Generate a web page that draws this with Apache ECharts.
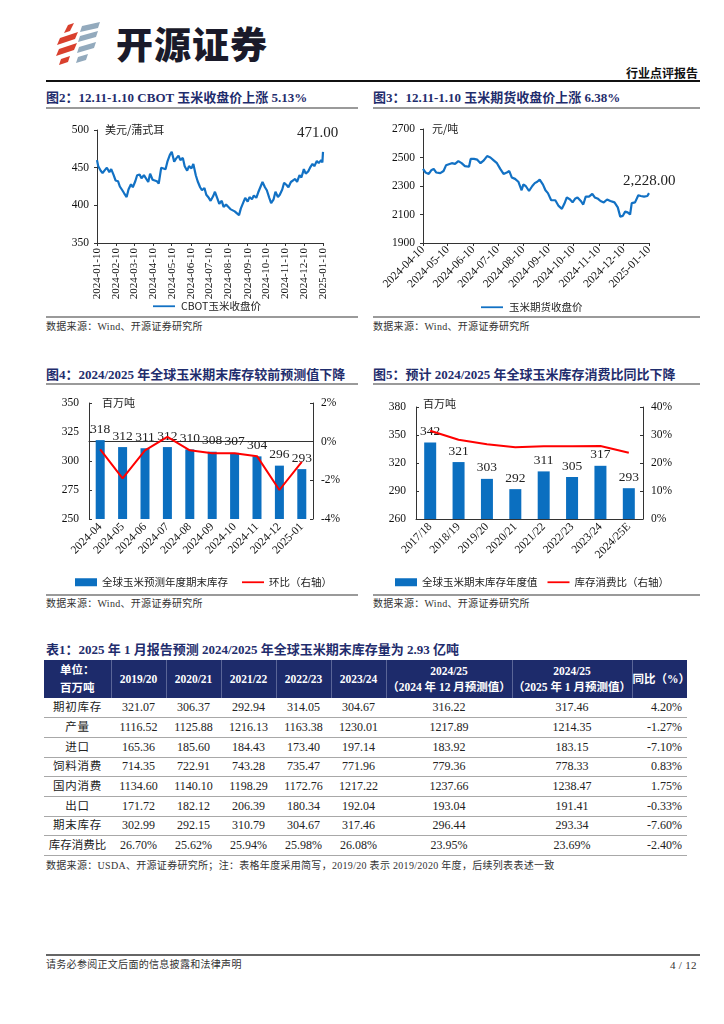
<!DOCTYPE html>
<html><head><meta charset="utf-8">
<script src="https://cdn.jsdelivr.net/npm/echarts@6/dist/echarts.min.js"></script>
<style>
body{margin:0;background:#fff;}
#page{position:relative;width:724px;height:1024px;overflow:hidden;font-family:"Noto Sans CJK SC",sans-serif;color:#222;}
.abs{position:absolute;}
.ftitle{position:absolute;font-family:"Liberation Serif","Noto Sans CJK SC",serif;font-weight:bold;font-size:13px;color:#1f2d6d;white-space:nowrap;line-height:16px;}
.gline{position:absolute;height:2px;background:#9a9a9a;}
.src{position:absolute;font-family:"Liberation Serif","Noto Sans CJK SC",serif;font-size:10px;color:#333;white-space:nowrap;line-height:12px;letter-spacing:0.3px;}
.chart{position:absolute;}
table{border-collapse:collapse;table-layout:fixed;font-family:"Liberation Serif","Noto Sans CJK SC",serif;font-size:12px;}
th{background:#1d2b6b;color:#fff;font-weight:bold;font-size:11.5px;line-height:16px;border-left:1px solid #5a6597;padding:0;}
th:first-child{border-left:none;}
tr.row{height:19.7px;}
td{border-bottom:1.6px solid #a8a8a8;text-align:center;padding:0;color:#222;line-height:17px;white-space:nowrap;}
td.r{text-align:right;padding-right:5px;}
td.lbl{letter-spacing:0.8px;font-size:11.5px;}
</style></head>
<body><div id="page">
<svg class="abs" style="left:56px;top:22px" width="50" height="44" viewBox="0 0 50 44">
  <polygon points="12,3 18,1 14,9 8,11" fill="#d9402e"/>
  <polygon points="4,16 22,10 19,17 1,23" fill="#d9402e"/>
  <polygon points="3,27 21,21 18,28 0,34" fill="#d9402e"/>
  <polygon points="5,37 14,34 12,40 3,43" fill="#d9402e"/>
  <polygon points="26,4 44,0 42,6 24,10" fill="#93aabd"/>
  <polygon points="24,14 42,9 40,15 22,20" fill="#93aabd"/>
  <polygon points="23,25 40,20 38,26 21,31" fill="#93aabd"/>
  <polygon points="22,35 32,32 30,38 20,41" fill="#93aabd"/>
</svg>
<div class="abs" style="left:116px;top:21px;font-size:37px;font-weight:900;color:#1a1a2a;letter-spacing:1px;line-height:44px;">开源证券</div>
<div class="abs" style="left:626px;top:66px;font-size:12px;font-weight:bold;color:#111;line-height:14px;">行业点评报告</div>
<div class="abs" style="left:46px;top:80px;width:654px;height:2px;background:#111;"></div>

<div class="ftitle" style="left:46px;top:90px;">图2：12.11-1.10 CBOT 玉米收盘价上涨 5.13%</div>
<div class="ftitle" style="left:373px;top:90px;">图3：12.11-1.10 玉米期货收盘价上涨 6.38%</div>
<div class="gline" style="left:46px;top:107px;width:312px;"></div>
<div class="gline" style="left:373px;top:107px;width:327px;"></div>
<div id="c2" class="chart" style="left:40px;top:110px;width:320px;height:205px;"></div>
<div id="c3" class="chart" style="left:360px;top:110px;width:340px;height:205px;"></div>
<div class="gline" style="left:46px;top:316px;width:312px;height:1.5px;"></div>
<div class="gline" style="left:373px;top:316px;width:327px;height:1.5px;"></div>
<div class="src" style="left:46px;top:321px;">数据来源：Wind、开源证券研究所</div>
<div class="src" style="left:373px;top:321px;">数据来源：Wind、开源证券研究所</div>

<div class="ftitle" style="left:46px;top:367px;">图4：2024/2025 年全球玉米期末库存较前预测值下降</div>
<div class="ftitle" style="left:373px;top:367px;">图5：预计 2024/2025 年全球玉米库存消费比同比下降</div>
<div class="gline" style="left:46px;top:383px;width:312px;"></div>
<div class="gline" style="left:373px;top:383px;width:327px;"></div>
<div id="c4" class="chart" style="left:40px;top:388px;width:320px;height:205px;"></div>
<div id="c5" class="chart" style="left:360px;top:388px;width:340px;height:205px;"></div>
<div class="gline" style="left:46px;top:594px;width:312px;height:1.5px;"></div>
<div class="gline" style="left:373px;top:594px;width:327px;height:1.5px;"></div>
<div class="src" style="left:46px;top:598px;">数据来源：Wind、开源证券研究所</div>
<div class="src" style="left:373px;top:598px;">数据来源：Wind、开源证券研究所</div>

<div class="ftitle" style="left:46px;top:642px;">表1：2025 年 1 月报告预测 2024/2025 年全球玉米期末库存量为 2.93 亿吨</div>
<div class="abs" style="left:44px;top:660px;width:643px;">
<table id="tbl" style="width:643px;">
<colgroup><col style="width:67px"><col style="width:55px"><col style="width:55px"><col style="width:55px"><col style="width:55px"><col style="width:55px"><col style="width:126px"><col style="width:120px"><col style="width:55px"></colgroup>
<thead id="thead"></thead><tbody id="tbody"></tbody>
</table></div>
<div class="src" style="left:46px;top:860px;">数据来源：USDA、开源证券研究所；注：表格年度采用简写，2019/20 表示 2019/2020 年度，后续列表表述一致</div>

<div class="abs" style="left:46px;top:954px;width:654px;height:2px;background:#666;"></div>
<div class="src" style="left:46px;top:959px;">请务必参阅正文后面的信息披露和法律声明</div>
<div class="src" style="left:670px;top:959px;font-size:11px;">4 / 12</div>
</div>
<script>
// ---------- DATA ----------
const cbotDates = ['2024-01-10','2024-01-12','2024-01-16','2024-01-19','2024-01-23','2024-01-26','2024-01-30','2024-02-02','2024-02-06','2024-02-09','2024-02-13','2024-02-16','2024-02-20','2024-02-23','2024-02-27','2024-03-01','2024-03-05','2024-03-08','2024-03-12','2024-03-15','2024-03-19','2024-03-22','2024-03-26','2024-03-29','2024-04-02','2024-04-05','2024-04-09','2024-04-12','2024-04-16','2024-04-19','2024-04-23','2024-04-26','2024-04-30','2024-05-03','2024-05-07','2024-05-10','2024-05-14','2024-05-17','2024-05-21','2024-05-24','2024-05-28','2024-05-31','2024-06-04','2024-06-07','2024-06-11','2024-06-14','2024-06-18','2024-06-21','2024-06-25','2024-06-28','2024-07-02','2024-07-05','2024-07-09','2024-07-12','2024-07-16','2024-07-19','2024-07-23','2024-07-26','2024-07-30','2024-08-02','2024-08-06','2024-08-09','2024-08-13','2024-08-16','2024-08-20','2024-08-23','2024-08-27','2024-08-30','2024-09-03','2024-09-06','2024-09-10','2024-09-13','2024-09-17','2024-09-20','2024-09-24','2024-09-27','2024-10-01','2024-10-04','2024-10-08','2024-10-11','2024-10-15','2024-10-18','2024-10-22','2024-10-25','2024-10-29','2024-11-01','2024-11-05','2024-11-08','2024-11-12','2024-11-15','2024-11-19','2024-11-22','2024-11-26','2024-11-29','2024-12-03','2024-12-06','2024-12-10','2024-12-13','2024-12-17','2024-12-20','2024-12-24','2024-12-27','2024-12-31','2025-01-03','2025-01-07','2025-01-09','2025-01-10'];
const cbotValues = [460,452,446,443,447,450,444,448,440,433,432,425,420,416,411,421,428,424,432,440,441,436,440,439,431,442,434,436,432,429,450,452,448,458,467,471,458,462,466,460,463,452,446,452,449,455,440,432,424,420,423,414,410,406,412,418,409,402,406,398,401,399,395,397,392,394,387,396,404,410,405,411,408,413,410,417,425,431,424,420,410,403,408,418,411,414,421,430,427,424,431,429,435,431,440,437,448,442,445,450,455,452,459,456,460,457,471];
const cbotTicks = ['2024-01-10','2024-02-10','2024-03-10','2024-04-10','2024-05-10','2024-06-10','2024-07-10','2024-08-10','2024-09-10','2024-10-10','2024-11-10','2024-12-10','2025-01-10'];

const futDates = ['2024-04-10','2024-04-13','2024-04-17','2024-04-20','2024-04-23','2024-04-26','2024-05-01','2024-05-05','2024-05-08','2024-05-10','2024-05-15','2024-05-19','2024-05-23','2024-05-27','2024-05-31','2024-06-05','2024-06-07','2024-06-11','2024-06-15','2024-06-19','2024-06-23','2024-06-27','2024-07-01','2024-07-05','2024-07-09','2024-07-13','2024-07-17','2024-07-21','2024-07-24','2024-07-27','2024-07-31','2024-08-04','2024-08-08','2024-08-10','2024-08-13','2024-08-17','2024-08-21','2024-08-24','2024-08-27','2024-08-30','2024-09-03','2024-09-06','2024-09-09','2024-09-13','2024-09-18','2024-09-22','2024-09-26','2024-09-29','2024-10-02','2024-10-06','2024-10-09','2024-10-12','2024-10-15','2024-10-19','2024-10-22','2024-10-25','2024-10-29','2024-11-02','2024-11-05','2024-11-09','2024-11-12','2024-11-16','2024-11-20','2024-11-24','2024-11-29','2024-12-03','2024-12-06','2024-12-09','2024-12-12','2024-12-15','2024-12-18','2024-12-20','2024-12-24','2024-12-28','2024-12-31','2025-01-04','2025-01-08','2025-01-10'];
const futValues = [2420,2395,2385,2410,2420,2395,2390,2405,2445,2450,2460,2455,2475,2460,2440,2435,2490,2490,2485,2460,2480,2510,2500,2480,2460,2420,2385,2395,2405,2360,2350,2330,2270,2310,2300,2265,2300,2320,2330,2345,2310,2270,2250,2200,2200,2160,2140,2175,2220,2205,2185,2210,2220,2195,2170,2225,2225,2245,2220,2210,2195,2185,2205,2195,2185,2150,2085,2090,2120,2115,2100,2180,2185,2235,2230,2225,2230,2250];
const futTicks = ['2024-04-10','2024-05-10','2024-06-10','2024-07-10','2024-08-10','2024-09-10','2024-10-10','2024-11-10','2024-12-10','2025-01-10'];
const futYTicks = [1900,2100,2300,2500,2700];

const stockMonths = ['2024-04','2024-05','2024-06','2024-07','2024-08','2024-09','2024-10','2024-11','2024-12','2025-01'];
const stockForecast = [318,312,311,312,310,308,307,304,296,293];
const stockMoM = [-0.4,-1.9,-0.45,0.25,-0.45,-0.6,-0.6,-0.75,-2.5,-1.05];

const seasons = ['2017/18','2018/19','2019/20','2020/21','2021/22','2022/23','2023/24','2024/25E'];
const seasonStock = [342,321,303,292,311,305,317,293];
const stockUseRatio = [31.5,28.3,26.70,25.62,25.94,25.98,26.08,23.69];
const c5YTicks = [260,290,320,350,380];

const tblHeader = ['2019/20','2020/21','2021/22','2022/23','2023/24'];
const tblRowNames = ['期初库存','产量','进口','饲料消费','国内消费','出口','期末库存','库存消费比'];
const tblRows = [
 ['321.07','306.37','292.94','314.05','304.67','316.22','317.46','4.20%'],
 ['1116.52','1125.88','1216.13','1163.38','1230.01','1217.89','1214.35','-1.27%'],
 ['165.36','185.60','184.43','173.40','197.14','183.92','183.15','-7.10%'],
 ['714.35','722.91','743.28','735.47','771.96','779.36','778.33','0.83%'],
 ['1134.60','1140.10','1198.29','1172.76','1217.22','1237.66','1238.47','1.75%'],
 ['171.72','182.12','206.39','180.34','192.04','193.04','191.41','-0.33%'],
 ['302.99','292.15','310.79','304.67','317.46','296.44','293.34','-7.60%'],
 ['26.70%','25.62%','25.94%','25.98%','26.08%','23.95%','23.69%','-2.40%']
];

// ---------- HELPERS ----------
function ts(s){const p=s.split('-').map(Number);return new Date(p[0],p[1]-1,p[2]).getTime();}
function fmtDate(v){const d=new Date(v);const m=d.getMonth()+1,dd=d.getDate();return d.getFullYear()+'-'+(m<10?'0':'')+m+'-'+(dd<10?'0':'')+dd;}
const BLUE='#1271c4', BAR='#0b6fc0', RED='#ff0000';
const SERIF='Liberation Serif';
const CJK='Noto Sans CJK SC';
const axisText={fontFamily:SERIF,fontSize:11.5,color:'#111'};
const axLine={show:true,lineStyle:{color:'#333',width:1}};
const LINE_ICON='path://M0,0M22,8M0,3.1H22V4.9H0Z';
const BAR_ICON='rect';
function safe(fn){try{fn();}catch(e){console.error(e);}}

// ---------- TABLE ----------
safe(function(){
  let h='<tr style="height:38px"><th style="line-height:18px">单位：<br>百万吨</th>';
  tblHeader.forEach(t=>h+='<th>'+t+'</th>');
  h+='<th>2024/25<br>（2024 年 12 月预测值）</th><th>2024/25<br>（2025 年 1 月预测值）</th><th>同比（%）</th></tr>';
  document.getElementById('thead').innerHTML=h;
  let b='';
  tblRows.forEach((r,i)=>{
    b+='<tr class="row"><td class="lbl"'+(tblRowNames[i].length>4?' style="letter-spacing:0"':'')+'>'+tblRowNames[i]+'</td>';
    r.forEach((v,j)=>{b+='<td'+(j===7?' class="r"':'')+'>'+v+'</td>';});
    b+='</tr>';
  });
  document.getElementById('tbody').innerHTML=b;
});

// ---------- CHART 2 ----------
safe(function(){
const c2=echarts.init(document.getElementById('c2'));
const tk=cbotTicks.map(ts);
c2.setOption({
  animation:false,
  grid:{left:57,top:20,width:226,height:113},
  xAxis:{type:'value',min:tk[0],max:tk[tk.length-1],
    axisLine:axLine,splitLine:{show:false},
    axisTick:{show:true,length:3,customValues:tk,lineStyle:{color:'#333'}},
    axisLabel:Object.assign({},axisText,{customValues:tk,rotate:90,formatter:fmtDate,margin:5,fontSize:11})},
  yAxis:{type:'value',min:350,max:500,interval:50,axisLine:axLine,axisTick:{show:true,length:3},splitLine:{show:false},
    axisLabel:Object.assign({},axisText,{margin:8})},
  legend:{left:108,top:186,itemWidth:24,itemHeight:8,textStyle:{fontFamily:CJK,fontSize:10.5,color:'#222'},
    data:[{name:'CBOT玉米收盘价',icon:LINE_ICON}]},
  graphic:[
    {type:'text',left:65,top:14,style:{text:'美元/蒲式耳',font:'11px "Noto Sans CJK SC"',fill:'#222'}},
    {type:'text',left:257,top:16,style:{text:'471.00',font:'15px "Liberation Serif"',fill:'#222'}}
  ],
  series:[{name:'CBOT玉米收盘价',type:'line',symbol:'none',lineStyle:{color:BLUE,width:2.2},itemStyle:{color:BLUE},
    data:cbotDates.map((d,i)=>[ts(d),cbotValues[i]])}]
});
});

// ---------- CHART 3 ----------
safe(function(){
const c3=echarts.init(document.getElementById('c3'));
const tk=futTicks.map(ts);
c3.setOption({
  animation:false,
  grid:{left:63,top:19,width:226,height:114},
  xAxis:{type:'value',min:tk[0],max:tk[tk.length-1],
    axisLine:axLine,splitLine:{show:false},
    axisTick:{show:true,length:3,customValues:tk},
    axisLabel:Object.assign({},axisText,{customValues:tk,rotate:45,formatter:fmtDate,margin:5,fontSize:11.5})},
  yAxis:{type:'value',min:1900,max:2700,axisLine:axLine,splitLine:{show:false},
    axisTick:{show:true,length:3,customValues:futYTicks},
    axisLabel:Object.assign({},axisText,{customValues:futYTicks,margin:8,formatter:v=>String(v)})},
  legend:{left:116,top:187,itemWidth:24,itemHeight:8,textStyle:{fontFamily:CJK,fontSize:10.5,color:'#222'},
    data:[{name:'玉米期货收盘价',icon:LINE_ICON}]},
  graphic:[
    {type:'text',left:72,top:13,style:{text:'元/吨',font:'11px "Noto Sans CJK SC"',fill:'#222'}},
    {type:'text',left:263,top:64,style:{text:'2,228.00',font:'15px "Liberation Serif"',fill:'#222'}}
  ],
  series:[{name:'玉米期货收盘价',type:'line',symbol:'none',lineStyle:{color:BLUE,width:2.2},itemStyle:{color:BLUE},
    data:futDates.map((d,i)=>[ts(d),futValues[i]])}]
});
});

// ---------- CHART 4 ----------
safe(function(){
const c4=echarts.init(document.getElementById('c4'));
c4.setOption({
  animation:false,
  grid:{left:49,top:15,width:224,height:116},
  xAxis:{type:'category',data:stockMonths,axisLine:axLine,axisTick:{show:false},
    axisLabel:Object.assign({},axisText,{rotate:45,margin:6,interval:0,fontSize:11.5})},
  yAxis:[
    {type:'value',min:250,max:350,interval:25,axisLine:axLine,axisTick:{show:true,inside:true,length:3},splitLine:{show:false},
      axisLabel:Object.assign({},axisText,{margin:10})},
    {type:'value',min:-4,max:2,interval:2,axisLine:axLine,axisTick:{show:true,inside:true,length:3},splitLine:{show:false},
      axisLabel:Object.assign({},axisText,{formatter:'{value}%',margin:8})}
  ],
  legend:{left:30,top:184,itemWidth:22,itemHeight:8,itemGap:14,textStyle:{fontFamily:CJK,fontSize:10.5,color:'#222'},
    data:[{name:'全球玉米预测年度期末库存',icon:BAR_ICON},{name:'环比（右轴）',icon:LINE_ICON}]},
  graphic:[{type:'text',left:62,top:9,style:{text:'百万吨',font:'11px "Noto Sans CJK SC"',fill:'#222'}}],
  series:[
    {name:'全球玉米预测年度期末库存',type:'bar',data:stockForecast,barWidth:9,itemStyle:{color:BAR},
      label:{show:true,position:'top',distance:4,fontFamily:SERIF,fontSize:13.5,color:'#222'}},
    {name:'环比（右轴）',type:'line',yAxisIndex:1,data:stockMoM,symbol:'none',lineStyle:{color:RED,width:2},itemStyle:{color:RED}}
  ]
});
});

// ---------- CHART 5 ----------
safe(function(){
const c5=echarts.init(document.getElementById('c5'));
c5.setOption({
  animation:false,
  grid:{left:56,top:19,width:227,height:112},
  xAxis:{type:'category',data:seasons,axisLine:axLine,axisTick:{show:false},
    axisLabel:Object.assign({},axisText,{rotate:45,margin:6,interval:0,fontSize:11.5})},
  yAxis:[
    {type:'value',min:260,max:380,axisLine:axLine,splitLine:{show:false},
      axisTick:{show:true,inside:true,length:3,customValues:c5YTicks},
      axisLabel:Object.assign({},axisText,{customValues:c5YTicks,margin:10})},
    {type:'value',min:0,max:40,interval:10,axisLine:axLine,axisTick:{show:true,inside:true,length:3},splitLine:{show:false},
      axisLabel:Object.assign({},axisText,{formatter:'{value}%',margin:8})}
  ],
  legend:{left:30,top:184,itemWidth:22,itemHeight:8,itemGap:10,textStyle:{fontFamily:CJK,fontSize:10.5,color:'#222'},
    data:[{name:'全球玉米期末库存年度值',icon:BAR_ICON},{name:'库存消费比（右轴）',icon:LINE_ICON}]},
  graphic:[{type:'text',left:63,top:10,style:{text:'百万吨',font:'11px "Noto Sans CJK SC"',fill:'#222'}}],
  series:[
    {name:'全球玉米期末库存年度值',type:'bar',data:seasonStock,barWidth:12,itemStyle:{color:BAR},
      label:{show:true,position:'top',distance:4,fontFamily:SERIF,fontSize:13.5,color:'#222'}},
    {name:'库存消费比（右轴）',type:'line',yAxisIndex:1,data:stockUseRatio,symbol:'none',lineStyle:{color:RED,width:2},itemStyle:{color:RED}}
  ]
});
});
</script>
</body></html>
